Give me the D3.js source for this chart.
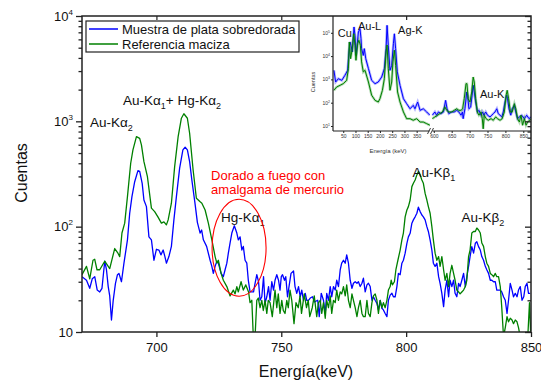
<!DOCTYPE html>
<html><head><meta charset="utf-8">
<script src="https://cdn.jsdelivr.net/npm/d3@7"></script>
<style>
body{margin:0;background:#fff;}
svg{display:block;font-family:Arial,"Liberation Sans",sans-serif;}
</style></head><body>
<svg id="c" width="541" height="383"></svg>
<script>
// ---------------- DATA ----------------
const xDomain = [670, 850];
const yDomain = [10, 10000];
const xTickValues = [700, 750, 800, 850];
const yLabelValues = [10, 100, 1000, 10000];
const yLabelExps = ["", "2", "3", "4"];
const seriesNames = ["Muestra de plata sobredorada", "Referencia maciza"];

const blueE = [
670.2,672.0,673.3,674.3,675.3,676.3,677.3,678.2,679.3,680.0,
680.7,681.3,682.0,682.7,683.6,684.4,685.0,686.0,687.0,688.4,
689.3,690.2,691.3,692.6,693.3,694.3,695.0,696.0,697.0,698.0,
699.0,700.0,701.0,701.8,702.7,703.4,704.0,705.0,706.0,707.0,
708.0,709.3,710.6,711.5,712.4,713.3,714.2,715.4,716.4,717.5,
718.1,718.8,720.1,721.5,722.2,722.8,723.5,724.2,724.8,725.9,
726.8,727.5,728.2,728.8,729.5,730.2,731.2,732.2,732.8,733.5,
734.2,734.8,735.5,736.2,736.8,737.5,738.2,738.9,739.5,740.2,
740.9,741.5,742.2,742.9,743.5,744.2,744.9,745.5,746.2,746.9,
747.5,748.2,748.9,749.5,750.0,750.5,751.3,751.8,752.5,753.1,
753.9,754.9,755.5,756.2,756.9,757.6,758.2,758.9,759.6,760.2,
760.9,761.6,762.5,763.3,764.6,765.2,766.0,766.9,767.6,768.2,
768.9,769.6,770.2,770.9,771.6,772.2,772.9,773.6,774.2,774.9,
775.6,776.2,776.9,777.6,778.3,778.9,779.6,780.3,780.9,781.6,
782.3,782.9,783.6,784.3,784.9,785.6,786.3,786.9,787.6,788.3,
788.9,789.6,790.3,790.9,791.6,792.3,792.9,793.6,794.3,794.9,
795.6,796.3,796.9,797.6,798.3,798.9,799.6,800.3,800.9,801.6,
802.3,802.9,803.6,804.3,804.9,805.6,806.3,806.9,807.6,808.3,
808.9,809.6,810.3,810.9,811.6,812.3,813.0,813.6,814.3,815.0,
815.6,816.3,817.0,817.6,818.3,819.0,819.6,820.3,821.0,821.6,
822.3,823.0,823.7,824.3,825.0,825.6,826.3,827.0,827.7,828.3,
829.0,829.7,830.3,831.0,831.7,832.3,833.0,833.7,834.3,835.0,
835.7,836.3,837.0,837.7,838.3,839.0,839.7,840.4,841.0,841.7,
842.4,843.0,843.7,844.4,845.0,845.7,846.4,847.1,847.7,848.4,
849.0,849.7];
const blueC = [
33.5,31,26,32,33.5,25,24,26,47,39,
27,22,13,20,29,35,36,30,45,75,
134,193,267,340,335,258,179,155,80,75,
48,61,60,54,60,52,45,52,65,116,
193,359,535,567,535,414,277,170,110,87,
93,75,65,48,42,36,42,47,45,36,
33.5,39,45,56,70,87,102,87,75,80,
60,65,48,45,31,24,24,24,29,35,
30,20,21.6,33.5,18.7,21.6,27,20,30,25,
31,35,31,25,33.5,35,31,33.5,21.6,27,
36,38,27,23.3,27,21.6,25,20,23.3,20,
20,21,21.6,19.3,20,14,23.3,20,15,23.3,
20,27,21.6,27,25,31,27,39,45,48,
45,54,45,31,26,29,30,29,30,27,
29,32.4,24,28,29,27,20,21.6,20,18.7,
16.2,20,16.8,16.2,15,14,20,22.4,23.3,21.6,
21.6,27,36,35,45,48,56,69.5,80,86.5,
108,116,124,134,153,139,129,124,116,100,
90,75,60,45,42,45,33.5,29,23.3,17.4,
25,31,21.6,31,27,31,23.3,21.6,29,27,
31,36,27,33.5,42,52,64.6,56,69.5,72,
64.6,60,52,48,42,39,36,31,31,30,
30,25,25,25,24,21.6,20,15,20,29,
25,21.6,23.3,21.6,25,27,20,21.6,27,29,
23.3,23.3];

const greenE = [
670.2,672.0,673.3,674.6,675.3,676.2,677.3,679.3,681.3,683.3,
684.6,685.3,686.2,687.3,688.4,689.7,690.6,692.0,693.3,694.0,
695.0,696.4,698.0,699.3,700.6,702.0,703.0,704.0,704.7,706.0,
707.3,708.7,710.0,711.0,712.4,713.3,714.7,716.0,717.4,718.2,
719.5,720.8,722.2,723.5,724.2,724.8,725.9,726.8,728.2,729.5,
730.8,731.5,732.2,732.8,733.9,734.8,735.8,736.9,737.5,738.2,
738.8,739.5,740.2,740.8,741.5,742.2,742.8,743.5,744.2,744.8,
745.5,746.4,747.5,748.2,748.8,749.5,750.2,750.8,751.5,752.2,
752.8,753.5,754.2,755.1,755.9,756.8,757.5,758.1,759.2,760.1,
760.8,761.4,762.4,763.2,764.2,764.9,765.6,766.2,766.9,767.6,
768.2,768.9,769.6,770.2,770.9,771.6,772.2,772.9,773.6,774.2,
774.9,775.6,776.2,776.9,777.6,778.3,778.9,779.6,780.3,780.9,
781.6,782.3,782.9,783.6,784.3,784.9,785.6,786.3,786.9,787.6,
788.3,788.9,789.6,790.3,790.9,791.6,792.3,792.9,793.6,794.0,
794.5,795.3,795.9,796.7,797.6,798.3,798.9,799.6,800.3,800.9,
801.6,802.3,802.9,803.6,804.3,804.9,805.6,806.3,806.9,807.6,
808.3,808.9,809.6,810.3,810.9,811.6,812.3,813.0,813.6,814.3,
815.0,815.6,816.3,817.0,817.6,818.3,819.0,819.6,820.3,821.0,
821.6,822.3,823.0,823.7,824.3,825.0,825.6,826.3,827.0,827.7,
828.3,829.0,829.7,830.3,831.0,831.7,832.3,833.0,833.7,834.3,
835.0,835.7,836.3,837.0,837.7,838.3,839.0,839.7,840.4,841.0,
841.7,842.4,843.0,843.7,844.4,845.0,845.7,846.4,847.7,848.6,
849.4,850.0];
const greenC = [
35,42,32,48,49,39,39,47,40,62,
56,52,87,108,193,400,535,716,690,597,
414,298,150,139,124,108,111,104,116,167,
372,716,1070,1180,1070,771,345,186,173,167,
144,108,75,52,45,48,36,31,27,22,
25,23,27,24,30,25,28,24,19,20,
9,9,20,21,17,20,16,20,15,20,
19,14,25,17,23,15,20,16,15,20,
17,25,20,12,19,17,22,15,23,17,
20,14,17,22,14,19,20,15,19,13.5,
20,17,22,15,20,19,25,20,24,23,
27,22,28,20,17,23,20,17,14,17,
20,15,14,14,20,15,14,19,22,23,
20,15,20,17,19,17,20,25,27,31,
28,30,39,48,60,75,87,124,144,155,
179,240,258,277,310,333,310,277,258,207,
179,155,134,100,75,56,48,52,42,52,
39,31,36,27,36,43,36,31,25,24,
23,24,25,27,31,52,60,87,90,90,
97,93,87,70,65,52,45,42,36,35,
33.5,36,33.5,33.5,27,17,9,11,14,12.5,
13.5,13,12,13,12.5,11,9,8,8,8,
19,8];

// inset (full spectrum, broken energy axis)
const insetBlueE = [12,19,30,44,57,68,73.5,77.6,81.7,87,94,98,102,108,112,118.5,122.6,125,132,136,
142,153,166,180,193,207,218,225,229,234,241,248,255,259,264,271,282,296,309,323,
336,343,354,364,377,391,404,
596,603,608,613,620,627,633,637,642,650,657,664,670,676,680,682,687,692,694.5,698,
703,707,710,713,717,722,726,732,736,740,745,750,757,762,766,771,776,780,785,790,
794,799,803.5,806,810,815,819,825,829,834,839,845.5,853,859.5,866,871.6];
const insetBlueC = [2450,773,1070,912,1500,2450,15000,40300,29000,15000,178000,77000,10700,40300,108000,151000,56000,21000,10700,21000,
7760,2900,912,655,773,1260,2900,21000,209000,29000,2450,4000,34000,91000,21000,2100,557,148,91,55,
77,55,107,47,55,40,29,
29,40,29,40,34,40,126,55,34,40,40,47,40,29,40,20.6,55,288,210,55,
65,210,557,288,107,40,47,29,40,29,40,29,24.5,29,34,40,55,34,29,24.5,
40,107,210,148,55,29,55,77,40,20.6,24.5,29,20.6,29,20.6,24.5];
const insetGreenE = [12,23,37,50,64,71,75,80,87,93,98,102,109,114,120,125,132,139,153,166,
180,193,200,210,218,225,229,234,241,248,253,259,264,272,282,296,309,323,336,350,
364,377,391,404,
596,603,611,617,624,631,636,642,650,657,664,670,676,680.5,685,690,692.6,696,701,706,
710,713,717,721.5,726,732,735.5,738,741,746,752,760,766,773,778,785,791,797,802,805,
809,814,819,825,829,834,839,843.6,848,853,857.6,862,868,871.6];
const insetGreenC = [340,472,557,655,912,2900,40300,7760,21000,91000,29000,6600,34000,48000,29000,5600,2100,2450,773,210,
126,107,148,340,1070,15000,30000,2900,340,773,5600,17800,4000,288,107,40,20.6,20.6,17.6,20.6,
14.8,14.8,12.6,10.8,
20.6,24.5,29,34,40,65,47,40,40,47,55,47,47,55,148,655,655,148,107,288,
1260,773,148,40,29,40,20.6,7.6,29,20.6,17.6,20.6,17.6,24.5,20.6,17.6,20.6,40,210,340,
148,40,40,91,55,20.6,14.8,29,10.8,20.6,10.8,14.8,17.6,20.6];
const insetLeftTicks = [50,100,150,200,250,300,350];
const insetRightTicks = [600,650,700,750,800,850];
const insetYLabelValues = [10,100,1000,10000,100000];
const insetYLabelExps = ["1","2","3","4","5"];

// annotations (anchored in data space)
const annotations = [
  {e:673.4, c:883,  parts:[["Au-K"],["α"],["2",1]]},
  {e:686.6, c:1430, parts:[["Au-K"],["α"],["1",1],["+ Hg-K"],["α"],["2",1]]},
  {e:725.9, c:111,  parts:[["Hg-K"],["α"],["1",1]]},
  {e:802.5, c:296,  parts:[["Au-K"],["β"],["1",1]]},
  {e:822.2, c:111,  parts:[["Au-K"],["β"],["2",1]]}
];
const redNote = [{e:721.9, c:277, t:"Dorado a fuego con"},{e:721.9, c:204, t:"amalgama de mercurio"}];
const ellipseCenter = {e:733.1, c:63};
const insetNotes = [{seg:"L", e:28, c:66000, t:"Cu"},{seg:"L", e:110, c:132000, t:"Au-L"},
                    {seg:"L", e:274, c:89000, t:"Ag-K"},{seg:"R", e:729, c:155, t:"Au-K"}];

// ---------------- CHART ----------------
if (blueE.length!==blueC.length || greenE.length!==greenC.length ||
    insetBlueE.length!==insetBlueC.length || insetGreenE.length!==insetGreenC.length)
  throw new Error("length mismatch "+[blueE.length,blueC.length,greenE.length,greenC.length,insetBlueE.length,insetBlueC.length,insetGreenE.length,insetGreenC.length]);

const BLUE="#0000ff", GREEN="#008000", AX="#222";
const L=82, R=531, T=16, B=332;
const svg=d3.select("#c");
const x=d3.scaleLinear().domain(xDomain).range([81.5,531]);
const y=d3.scaleLog().domain(yDomain).range([B,T]);
const defs=svg.append("defs");
defs.append("clipPath").attr("id","clipMain").append("rect").attr("x",L).attr("y",T).attr("width",R-L).attr("height",B-T);

const blue=blueE.map((e,i)=>[e,blueC[i]]);
const green=greenE.map((e,i)=>[e,greenC[i]]);
const line=d3.line().x(d=>x(d[0])).y(d=>y(d[1]));
const gData=svg.append("g").attr("clip-path","url(#clipMain)");
gData.append("path").datum(blue).attr("d",line).attr("fill","none").attr("stroke",BLUE).attr("stroke-width",1.3).attr("stroke-linejoin","round");
gData.append("path").datum(green).attr("d",line).attr("fill","none").attr("stroke",GREEN).attr("stroke-width",1.3).attr("stroke-linejoin","round");

// ---------- INSET ----------
const iL=333, iT=16, iB=131, iR=531, iBreak=430.5;
svg.append("rect").attr("x",iL).attr("y",iT).attr("width",iR-iL).attr("height",iB-iT).attr("fill","#fff");
const yi=d3.scaleLog().domain([10,1e5]).range([126,32.8]);
const xiL=d3.scaleLinear().domain([0,400]).range([331,428.9]);
const xiR=d3.scaleLinear().domain([600,850]).range([433.8,523.3]);
defs.append("clipPath").attr("id","clipIL").append("rect").attr("x",iL).attr("y",iT).attr("width",iBreak-iL-0.5).attr("height",iB-iT);
defs.append("clipPath").attr("id","clipIR").append("rect").attr("x",iBreak+1).attr("y",iT).attr("width",iR-iBreak-1).attr("height",iB-iT);
function drawInset(E,C,color){
  const pts=E.map((e,i)=>[e,C[i]]);
  const left=pts.filter(d=>d[0]<500), right=pts.filter(d=>d[0]>=500);
  const lL=d3.line().x(d=>xiL(d[0])).y(d=>yi(d[1]));
  const lR=d3.line().x(d=>xiR(d[0])).y(d=>yi(d[1]));
  [[left,lL,"clipIL"],[right,lR,"clipIR"]].forEach(([p,l,cl])=>{
    const g=svg.append("g").attr("clip-path",`url(#${cl})`);
    g.append("path").datum(p).attr("d",l).attr("fill","none").attr("stroke",color).attr("stroke-opacity",0.3).attr("stroke-width",2.6);
    g.append("path").datum(p).attr("d",l).attr("fill","none").attr("stroke",color).attr("stroke-width",1);
  });
}
drawInset(insetBlueE,insetBlueC,BLUE);
drawInset(insetGreenE,insetGreenC,GREEN);
// inset axes
svg.append("line").attr("x1",iL).attr("x2",iL).attr("y1",iT).attr("y2",iB).attr("stroke",AX).attr("stroke-width",1.2);
svg.append("line").attr("x1",iL).attr("x2",iBreak-1).attr("y1",iB).attr("y2",iB).attr("stroke",AX).attr("stroke-width",1.2);
svg.append("line").attr("x1",iBreak+2).attr("x2",iR).attr("y1",iB).attr("y2",iB).attr("stroke",AX).attr("stroke-width",1.2);
[iBreak-1.5,iBreak+1.5].forEach(bx=>svg.append("line").attr("x1",bx-1.5).attr("x2",bx+1.5).attr("y1",iB+3).attr("y2",iB-3).attr("stroke",AX).attr("stroke-width",0.9));
const gxiL=svg.append("g").attr("transform",`translate(0,${iB})`).call(d3.axisBottom(xiL).tickValues(insetLeftTicks).tickSize(2).tickPadding(1.5));
const gxiR=svg.append("g").attr("transform",`translate(0,${iB})`).call(d3.axisBottom(xiR).tickValues(insetRightTicks).tickSize(2).tickPadding(1.5));
[gxiL,gxiR].forEach(g=>{g.select(".domain").remove();g.selectAll("text").attr("font-size",5).attr("fill","#333").attr("font-family","Arial");g.selectAll("line").attr("stroke",AX);});
const gyi=svg.append("g").attr("transform",`translate(${iL},0)`).call(d3.axisLeft(yi).tickValues(insetYLabelValues).tickSize(2).tickFormat(""));
gyi.select(".domain").remove(); gyi.selectAll("line").attr("stroke",AX);
insetYLabelValues.forEach((v,i)=>{
  const t=svg.append("text").attr("x",330).attr("y",yi(v)+2).attr("text-anchor","end").attr("font-size",5).attr("fill","#333");
  t.append("tspan").text("10");
  t.append("tspan").attr("dy",-2).attr("font-size",3.5).text(insetYLabelExps[i]);
});
svg.append("text").attr("x",388).attr("y",153).attr("text-anchor","middle").attr("font-size",6).attr("fill","#333").text("Energía (keV)");
svg.append("text").attr("transform","translate(315,82) rotate(-90)").attr("text-anchor","middle").attr("font-size",5.5).attr("fill","#333").text("Cuentas");
insetNotes.forEach(n=>{
  const xx=(n.seg==="L"?xiL:xiR)(n.e);
  svg.append("text").attr("x",xx).attr("y",yi(n.c)).attr("font-size",11).attr("fill","#111").text(n.t);
});

// ---------- MAIN AXES ----------
svg.append("rect").attr("x",L).attr("y",T).attr("width",R-L).attr("height",B-T).attr("fill","none").attr("stroke",AX).attr("stroke-width",1.5);
const yTicks=[];
for(let e=1;e<4;e++) for(let m=1;m<10;m++) yTicks.push(m*Math.pow(10,e));
yTicks.push(1e4);
const isMajor=v=>Math.abs(Math.log10(v)-Math.round(Math.log10(v)))<1e-9;
const gy=svg.append("g").attr("transform",`translate(${L},0)`).call(d3.axisLeft(y).tickValues(yTicks).tickSize(6).tickFormat(""));
gy.select(".domain").remove();
gy.selectAll(".tick line").attr("x2",d=>isMajor(d)?-6:-3.5).attr("stroke",AX).attr("stroke-width",1.3);
const gyr=svg.append("g").attr("transform",`translate(${R},0)`).call(d3.axisLeft(y).tickValues(yTicks).tickSize(5).tickFormat(""));
gyr.select(".domain").remove();
gyr.selectAll(".tick line").attr("x2",d=>isMajor(d)?-6:-3.5).attr("stroke",AX).attr("stroke-width",1.3);
yLabelValues.forEach((v,i)=>{
  const t=svg.append("text").attr("x",73).attr("y",y(v)+4.5).attr("text-anchor","end").attr("font-size",13).attr("fill","#111");
  t.append("tspan").text("10");
  if(yLabelExps[i]) t.append("tspan").attr("dy",-6).attr("font-size",8).text(yLabelExps[i]);
});
const gx=svg.append("g").attr("transform",`translate(0,${B})`).call(d3.axisBottom(x).tickValues(xTickValues).tickSize(5).tickPadding(6).tickFormat(d3.format("d")));
gx.select(".domain").remove();
gx.selectAll("line").attr("stroke",AX).attr("stroke-width",1.3);
gx.selectAll("text").attr("font-size",13).attr("font-family","Arial").attr("fill","#111");
const gxt=svg.append("g").attr("transform",`translate(0,${T})`).call(d3.axisTop(x).tickValues(xTickValues.slice(0,3)).tickSize(-4).tickFormat(""));
gxt.select(".domain").remove(); gxt.selectAll("line").attr("stroke",AX).attr("stroke-width",1.2);

svg.append("text").attr("x",306).attr("y",376.5).attr("text-anchor","middle").attr("font-size",16).attr("fill","#111").text("Energía(keV)");
svg.append("text").attr("transform","translate(27,173) rotate(-90)").attr("text-anchor","middle").attr("font-size",16).attr("fill","#111").text("Cuentas");

// legend
svg.append("rect").attr("x",86).attr("y",21).attr("width",213).attr("height",31).attr("fill","#fff").attr("stroke",AX).attr("stroke-width",1.2);
[[BLUE,29],[GREEN,44]].forEach(([c,yy],i)=>{
  svg.append("line").attr("x1",89).attr("x2",118).attr("y1",yy).attr("y2",yy).attr("stroke",c).attr("stroke-width",1.5);
  svg.append("text").attr("x",122).attr("y",yy+4.5).attr("font-size",13).attr("fill","#111").text(seriesNames[i]);
});

// annotations
annotations.forEach(a=>{
  const t=svg.append("text").attr("x",x(a.e)).attr("y",y(a.c)).attr("font-size",13.5).attr("fill","#111");
  let sub=false;
  a.parts.forEach(p=>{
    const s=t.append("tspan").text(p[0]);
    if(p[1]){s.attr("dy",4).attr("font-size",9);sub=true;}
    else if(sub){s.attr("dy",-4);sub=false;}
  });
});
redNote.forEach(n=>svg.append("text").attr("x",x(n.e)).attr("y",y(n.c)).attr("font-size",13).attr("fill","#ff0000").text(n.t));
svg.append("ellipse").attr("cx",x(ellipseCenter.e)).attr("cy",y(ellipseCenter.c)).attr("rx",27).attr("ry",48.5)
  .attr("fill","none").attr("stroke","#ff0000").attr("stroke-width",1.1);
</script></body></html>
